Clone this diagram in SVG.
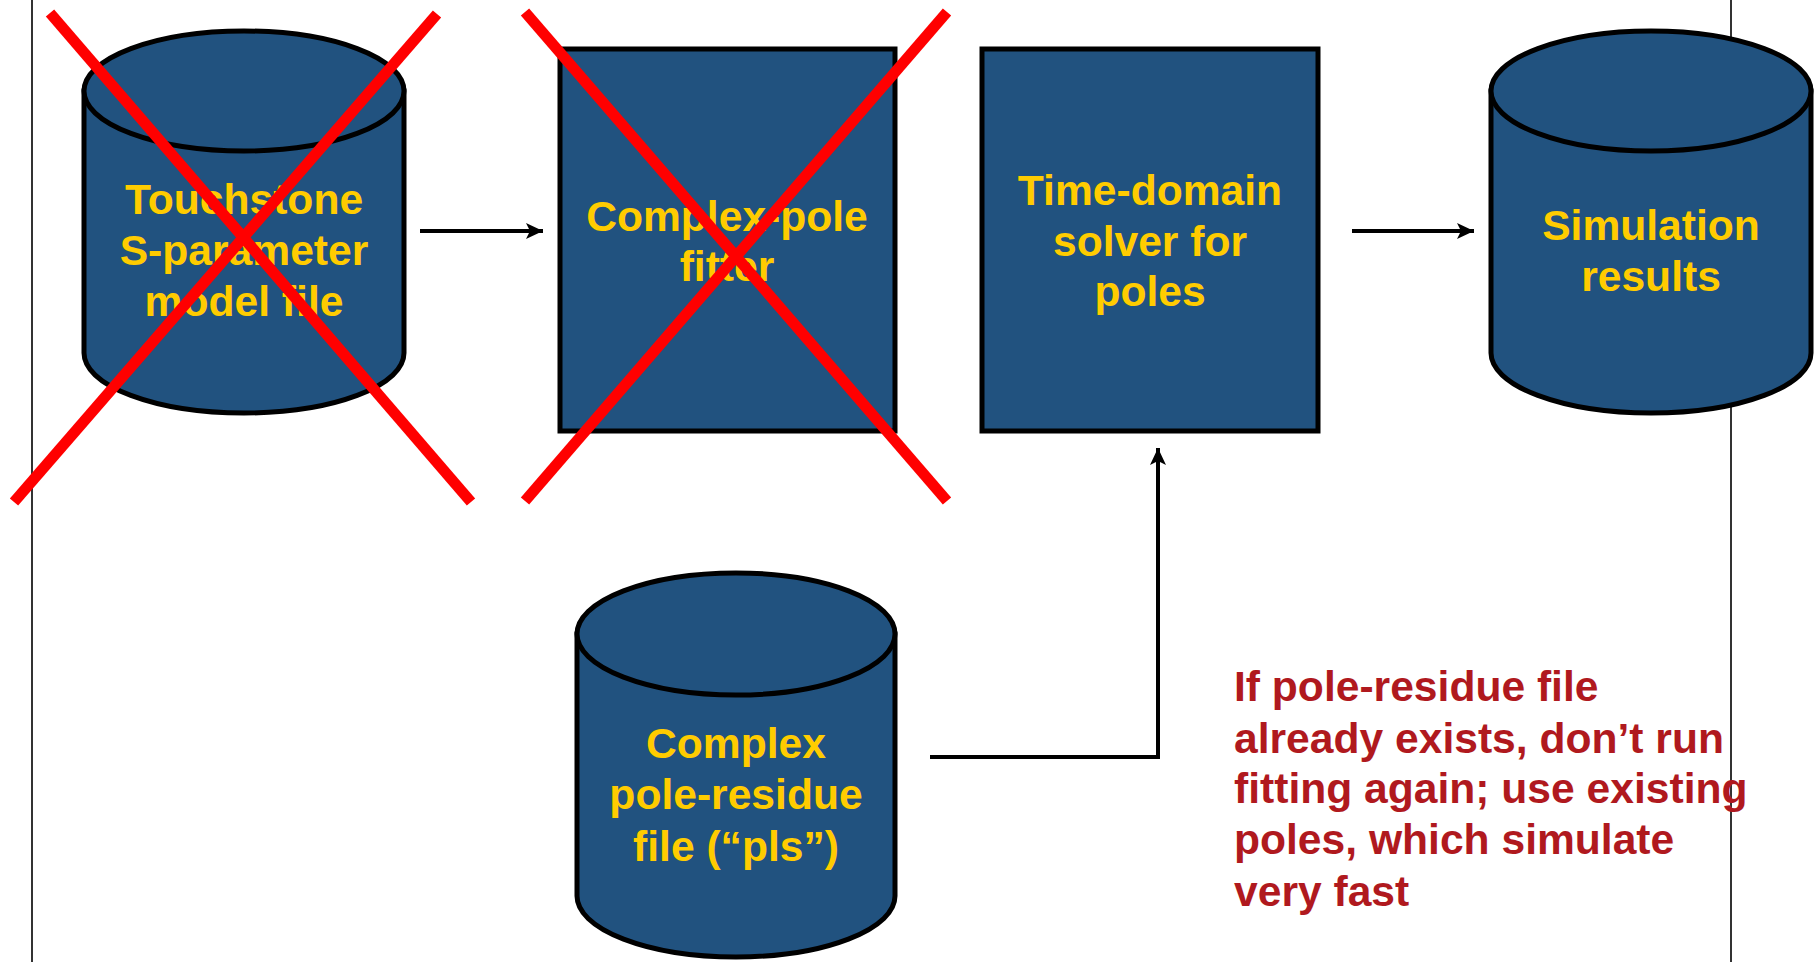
<svg xmlns="http://www.w3.org/2000/svg" width="1815" height="962" viewBox="0 0 1815 962">
  <style>
    .shape { fill: #21527f; stroke: #000; stroke-width: 5; }
    .label { font-family: "Liberation Sans", Arial, sans-serif; font-weight: bold; font-size: 42.6px; fill: #ffcc00; text-anchor: middle; }
    .note { font-family: "Liberation Sans", Arial, sans-serif; font-weight: bold; font-size: 42.6px; fill: #b0191e; }
    .wire { fill: none; stroke: #000; stroke-width: 4; }
    .cross { stroke: #ff0000; stroke-width: 11; }
    .frame { stroke: #333; stroke-width: 2; }
  </style>
  <defs>
    <marker id="arrow" markerWidth="20" markerHeight="18" refX="17" refY="9" orient="auto" markerUnits="userSpaceOnUse">
      <path d="M0,1 L17,9 L0,17 L4,9 Z" fill="#000"/>
    </marker>
  </defs>

  <rect width="1815" height="962" fill="#fff"/>

  <!-- slide frame edges -->
  <line class="frame" x1="32" y1="0" x2="32" y2="962"/>
  <line class="frame" x1="1731" y1="0" x2="1731" y2="962"/>

  <!-- connectors -->
  <g id="connectors">
    <line class="wire" x1="420" y1="231" x2="543" y2="231" marker-end="url(#arrow)"/>
    <line class="wire" x1="1352" y1="231" x2="1474" y2="231" marker-end="url(#arrow)"/>
    <polyline class="wire" points="930,757 1158,757 1158,448" marker-end="url(#arrow)"/>
  </g>

  <!-- Touchstone input -->
  <g id="touchstone">
    <path class="shape" d="M84,91 L84,353 A160,60 0 0 0 404,353 L404,91 Z"/>
    <ellipse class="shape" cx="244" cy="91" rx="160" ry="60"/>
    <text class="label" x="244" y="214">Touchstone</text>
    <text class="label" x="244" y="265">S-parameter</text>
    <text class="label" x="244" y="316">model file</text>
  </g>

  <!-- pole fitter -->
  <g id="fitter">
    <rect class="shape" x="560" y="49" width="335" height="382"/>
    <text class="label" x="727" y="231">Complex-pole</text>
    <text class="label" x="727" y="281">fitter</text>
  </g>

  <!-- time-domain solver -->
  <g id="solver">
    <rect class="shape" x="982" y="49" width="336" height="382"/>
    <text class="label" x="1150" y="205">Time-domain</text>
    <text class="label" x="1150" y="256">solver for</text>
    <text class="label" x="1150" y="306">poles</text>
  </g>

  <!-- results -->
  <g id="results">
    <path class="shape" d="M1491,91 L1491,353 A160,60 0 0 0 1811,353 L1811,91 Z"/>
    <ellipse class="shape" cx="1651" cy="91" rx="160" ry="60"/>
    <text class="label" x="1651" y="240">Simulation</text>
    <text class="label" x="1651" y="291">results</text>
  </g>

  <!-- pole-residue file -->
  <g id="pls">
    <path class="shape" d="M577,634 L577,896 A159,61 0 0 0 895,896 L895,634 Z"/>
    <ellipse class="shape" cx="736" cy="634" rx="159" ry="61"/>
    <text class="label" x="736" y="758">Complex</text>
    <text class="label" x="736" y="809">pole-residue</text>
    <text class="label" x="736" y="861">file (“pls”)</text>
  </g>

  <!-- skipped steps -->
  <g id="crossed-out">
    <line class="cross" x1="50" y1="13" x2="471" y2="502"/>
    <line class="cross" x1="437" y1="14" x2="14" y2="502"/>
    <line class="cross" x1="525" y1="12" x2="947" y2="501"/>
    <line class="cross" x1="947" y1="12" x2="525" y2="501"/>
  </g>

  <!-- note -->
  <g id="note">
    <text class="note" x="1234" y="701">If pole-residue file</text>
    <text class="note" x="1234" y="753">already exists, don’t run</text>
    <text class="note" x="1234" y="803">fitting again; use existing</text>
    <text class="note" x="1234" y="854">poles, which simulate</text>
    <text class="note" x="1234" y="906">very fast</text>
  </g>
</svg>
